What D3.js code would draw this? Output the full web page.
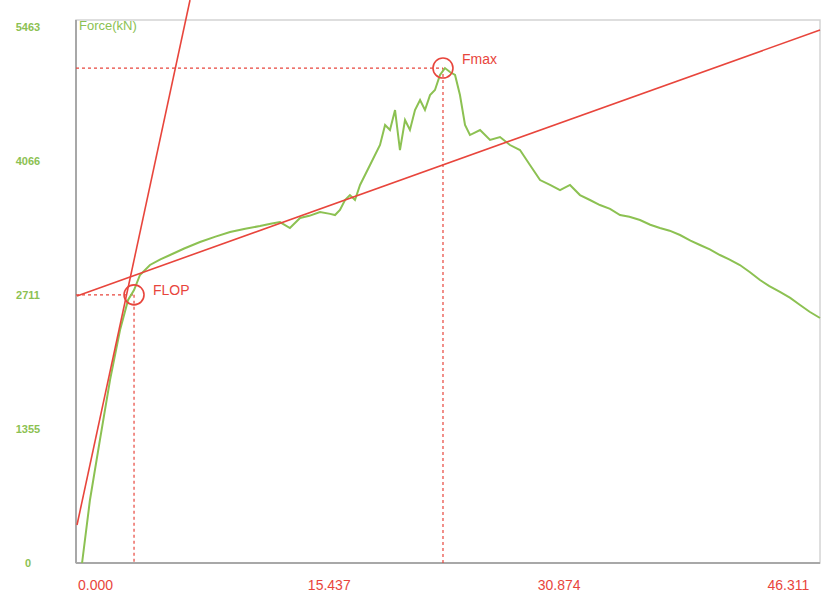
<!DOCTYPE html>
<html><head><meta charset="utf-8">
<script src="https://cdn.jsdelivr.net/npm/d3@7"></script>
<style>body{margin:0;background:#fff}svg{display:block}</style>
</head><body>
<svg id="c" width="821" height="608"></svg>
<script>
const xTicks = [0, 15.437, 30.874, 46.311];
const xTickLabels = ["0.000", "15.437", "30.874", "46.311"];
const yTicks = [0, 1355, 2711, 4066, 5422];
const yTickLabels = ["0", "1355", "2711", "4066", "5463"];
const title = "Force(kN)";
const curveX = [0.34,0.87,1.54,2.22,2.89,3.43,3.83,4.23,4.90,5.60,6.25,7.20,8.26,9.30,10.28,11.30,12.29,13.00,13.63,14.30,14.98,15.60,16.32,17.00,17.33,17.66,18.00,18.33,18.67,19.01,19.68,20.35,20.69,21.02,21.36,21.69,22.03,22.36,22.70,23.04,23.37,23.71,24.04,24.38,24.71,25.05,25.39,25.72,26.06,26.39,27.07,27.74,28.41,29.08,29.75,30.42,31.10,31.77,32.44,33.11,33.78,34.45,35.12,35.80,36.47,37.10,37.81,38.50,39.15,39.80,40.50,41.20,41.84,42.50,43.18,43.80,44.52,45.20,45.87,46.50,47.21,47.90,48.56,49.20,49.90];
const curveY = [0,637,1244,1851,2356,2659,2760,2912,3013,3070,3114,3180,3245,3300,3346,3380,3407,3430,3447,3387,3488,3510,3549,3530,3518,3569,3670,3720,3670,3822,4024,4226,4428,4378,4580,4175,4479,4378,4580,4681,4580,4731,4782,4934,5004,4964,4934,4731,4428,4327,4378,4277,4307,4226,4175,4024,3872,3822,3771,3822,3720,3670,3619,3580,3518,3500,3468,3420,3387,3360,3316,3260,3215,3170,3114,3070,3013,2940,2861,2800,2740,2680,2608,2540,2477];
const pointNames = ["FLOP", "Fmax"];
const pointX = [3.83, 24.58];
const pointY = [2711, 5004];
// reference lines: [x0,y0,x1,y1] in data units
const steepLine = [0, 384, 7.59, 5692];
const shallowLine = [0, 2700, 49.9, 5389];

const svg = d3.select("#c");
const L = 76, R = 820, T = 20, B = 563;
const x = d3.scaleLinear().domain([0, 49.9]).range([77, R]);
const y = d3.scaleLinear().domain([0, 5490]).range([B, T]);
const green = "#8cc152", red = "#e8453c";
const font = "Liberation Sans Narrow, Liberation Sans, sans-serif";

// frame
svg.append("rect").attr("x", L).attr("y", T).attr("width", R - L).attr("height", B - T)
  .attr("fill", "#fff").attr("stroke", "#d4d4d4").attr("stroke-width", 1.5);
svg.append("line").attr("x1", L).attr("x2", L).attr("y1", T).attr("y2", B).attr("stroke", "#a8a8a8").attr("stroke-width", 2);
svg.append("line").attr("x1", L).attr("x2", R).attr("y1", B).attr("y2", B).attr("stroke", "#a8a8a8").attr("stroke-width", 2);

// y tick labels
svg.selectAll(".yl").data(yTicks).enter().append("text")
  .attr("x", 28).attr("y", d => y(d) + 4).attr("text-anchor", "middle")
  .attr("font-family", font).attr("font-size", 11).attr("font-weight", "bold")
  .attr("fill", green).text((d, i) => yTickLabels[i]);
// x tick labels
svg.selectAll(".xl").data(xTicks).enter().append("text")
  .attr("x", d => x(d) + 1).attr("y", 590).attr("text-anchor", "start")
  .attr("font-family", font).attr("font-size", 14)
  .attr("fill", red).text((d, i) => xTickLabels[i]);
// title
svg.append("text").attr("x", 79).attr("y", 30).attr("font-family", font)
  .attr("font-size", 13).attr("fill", green).text(title);

// dotted guides
pointX.forEach((px, i) => {
  svg.append("line").attr("x1", L).attr("x2", x(px)).attr("y1", y(pointY[i])).attr("y2", y(pointY[i]))
    .attr("stroke", red).attr("stroke-width", 1.2).attr("stroke-dasharray", "3,3");
  svg.append("line").attr("x1", x(px)).attr("x2", x(px)).attr("y1", y(pointY[i])).attr("y2", B)
    .attr("stroke", red).attr("stroke-width", 1.2).attr("stroke-dasharray", "3,3");
});

// curve
const pts = curveX.map((d, i) => [d, curveY[i]]);
svg.append("path").datum(pts)
  .attr("d", d3.line().x(d => x(d[0])).y(d => y(d[1])))
  .attr("fill", "none").attr("stroke", green).attr("stroke-width", 2);

// red lines
svg.append("line").attr("x1", x(steepLine[0])).attr("y1", y(steepLine[1])).attr("x2", x(steepLine[2])).attr("y2", y(steepLine[3]))
  .attr("stroke", red).attr("stroke-width", 1.6);
svg.append("line").attr("x1", x(shallowLine[0])).attr("y1", y(shallowLine[1])).attr("x2", x(shallowLine[2])).attr("y2", y(shallowLine[3]))
  .attr("stroke", red).attr("stroke-width", 1.6);

// markers
pointX.forEach((px, i) => {
  svg.append("circle").attr("cx", x(px)).attr("cy", y(pointY[i])).attr("r", 10)
    .attr("fill", "none").attr("stroke", red).attr("stroke-width", 1.6);
  svg.append("text").attr("x", x(px) + 19).attr("y", y(pointY[i]) - (i === 1 ? 4 : 0))
    .attr("font-family", font).attr("font-size", 14)
    .attr("fill", red).text(pointNames[i]);
});
</script>
</body></html>
